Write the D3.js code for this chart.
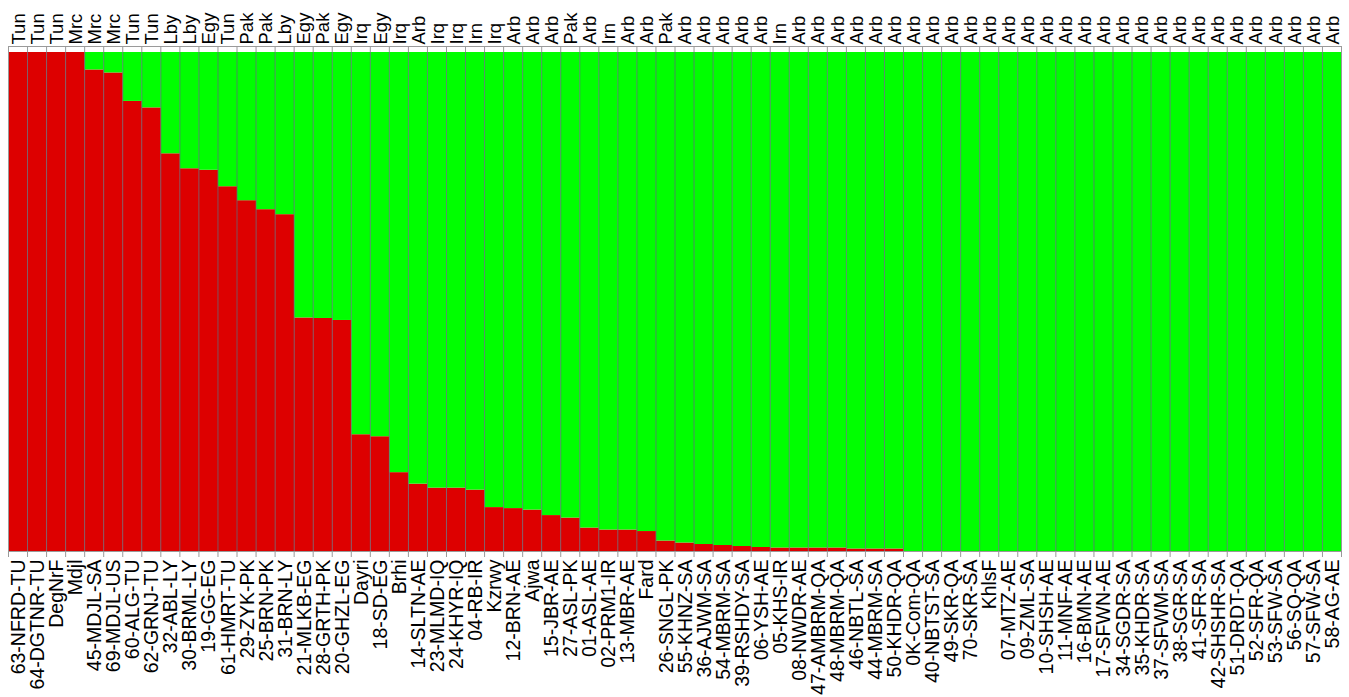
<!DOCTYPE html>
<html>
<head>
<meta charset="utf-8">
<script src="https://cdn.jsdelivr.net/npm/d3@7"></script>
<style>
  html, body { margin: 0; padding: 0; background: #fff; }
  svg { display: block; }
  text { font-family: "Liberation Sans", Arial, sans-serif; fill: #000; }
</style>
</head>
<body>
<svg id="chart" width="1349" height="697"></svg>
<script>
const sampleLabels = ["63-NFRD-TU","64-DGTNR-TU","DegNrF","Mdjl","45-MDJL-SA","69-MDJL-US","60-ALG-TU","62-GRNJ-TU","32-ABL-LY","30-BRML-LY","19-GG-EG","61-HMRT-TU","29-ZYK-PK","25-BRN-PK","31-BRN-LY","21-MLKB-EG","28-GRTH-PK","20-GHZL-EG","Dayri","18-SD-EG","Brhi","14-SLTN-AE","23-MLMD-IQ","24-KHYR-IQ","04-RB-IR","Kzrwy","12-BRN-AE","Ajwa","15-JBR-AE","27-ASL-PK","01-ASL-AE","02-PRM1-IR","13-MBR-AE","Fard","26-SNGL-PK","55-KHNZ-SA","36-AJWM-SA","54-MBRM-SA","39-RSHDY-SA","06-YSH-AE","05-KHS-IR","08-NWDR-AE","47-AMBRM-QA","48-MBRM-QA","46-NBTL-SA","44-MBRM-SA","50-KHDR-QA","0K-Com-QA","40-NBTST-SA","49-SKR-QA","70-SKR-SA","KhlsF","07-MTZ-AE","09-ZML-SA","10-SHSH-AE","11-MNF-AE","16-BMN-AE","17-SFWN-AE","34-SGDR-SA","35-KHDR-SA","37-SFWM-SA","38-SGR-SA","41-SFR-SA","42-SHSHR-SA","51-DRDT-QA","52-SFR-QA","53-SFW-SA","56-SQ-QA","57-SFW-SA","58-AG-AE"];

const regionLabels = ["Tun","Tun","Tun","Mrc","Mrc","Mrc","Tun","Tun","Lby","Lby","Egy","Tun","Pak","Pak","Lby","Egy","Pak","Egy","Irq","Egy","Irq","Arb","Irq","Irq","Irn","Irq","Arb","Arb","Arb","Pak","Arb","Irn","Arb","Arb","Pak","Arb","Arb","Arb","Arb","Arb","Irn","Arb","Arb","Arb","Arb","Arb","Arb","Arb","Arb","Arb","Arb","Arb","Arb","Arb","Arb","Arb","Arb","Arb","Arb","Arb","Arb","Arb","Arb","Arb","Arb","Arb","Arb","Arb","Arb","Arb"];

// membership proportion of cluster 1 (red); cluster 2 (green) = 1 - red
const cluster1 = [1.0,1.0,1.0,1.0,0.965,0.959,0.902,0.889,0.797,0.767,0.764,0.731,0.703,0.685,0.675,0.468,0.467,0.463,0.234,0.230,0.158,0.135,0.127,0.127,0.123,0.088,0.086,0.083,0.072,0.067,0.047,0.043,0.043,0.040,0.021,0.017,0.014,0.012,0.010,0.008,0.007,0.007,0.007,0.007,0.005,0.005,0.005,0,0,0,0,0,0,0,0,0,0,0,0,0,0,0,0,0,0,0,0,0,0,0];
const cluster2 = cluster1.map(v => 1 - v);

const clusterColors = ["#dd0000", "#00ff00"];

const svg = d3.select("#chart");
const pLeft = 8.5, pRight = 1341.5, pTop = 52, pBottom = 551;

const x = d3.scaleBand().domain(d3.range(sampleLabels.length)).range([pLeft, pRight]).padding(0);
const y = d3.scaleLinear().domain([0, 1]).range([pBottom, pTop]);

const rows = sampleLabels.map((s, i) => ({ i, c1: cluster1[i], c2: cluster2[i] }));
const stack = d3.stack().keys(["c1", "c2"]);
const series = stack(rows);

svg.append("g").selectAll("g").data(series).join("g")
  .attr("fill", (d, k) => clusterColors[k])
  .selectAll("rect").data(d => d).join("rect")
  .attr("x", d => x(d.data.i))
  .attr("width", x.bandwidth())
  .attr("y", d => y(d[1]))
  .attr("height", d => Math.max(0, y(d[0]) - y(d[1])));

// separators between individuals
svg.append("g").selectAll("line").data(d3.range(1, sampleLabels.length)).join("line")
  .attr("x1", i => x(i)).attr("x2", i => x(i))
  .attr("y1", pTop).attr("y2", pBottom)
  .attr("stroke", "#5f6a78").attr("stroke-width", 1).attr("stroke-opacity", 0.75);

// top & bottom axes (ticks at boundaries)
const boundaries = d3.range(0, sampleLabels.length + 1);
const bx = i => pLeft + i * x.bandwidth();
const axG = svg.append("g").attr("stroke", "#9a9a9a").attr("stroke-width", 1);
axG.append("line").attr("x1", pLeft).attr("x2", pRight).attr("y1", pTop - 5.5).attr("y2", pTop - 5.5);
axG.selectAll(".tt").data(boundaries).join("line").attr("class", "tt")
  .attr("x1", bx).attr("x2", bx).attr("y1", pTop - 6).attr("y2", pTop);
axG.append("line").attr("x1", pLeft).attr("x2", pRight).attr("y1", pBottom + 0.5).attr("y2", pBottom + 0.5);
axG.selectAll(".bt").data(boundaries).join("line").attr("class", "bt")
  .attr("x1", bx).attr("x2", bx).attr("y1", pBottom).attr("y2", pBottom + 6);

// left / right border
axG.append("line").attr("x1", pLeft).attr("x2", pLeft).attr("y1", pTop).attr("y2", pBottom);
axG.append("line").attr("x1", pRight).attr("x2", pRight).attr("y1", pTop).attr("y2", pBottom);

// top region labels
svg.append("g").selectAll("text").data(regionLabels).join("text")
  .attr("transform", (d, i) => `translate(${x(i) + x.bandwidth() / 2},44.5) rotate(-90)`)
  .attr("dy", "0.36em")
  .attr("text-anchor", "start")
  .style("font-size", "18.5px")
  .text(d => d);

// bottom sample labels
svg.append("g").selectAll("text").data(sampleLabels).join("text")
  .attr("transform", (d, i) => `translate(${x(i) + x.bandwidth() / 2},559.5) rotate(-90)`)
  .attr("dy", "0.36em")
  .attr("text-anchor", "end")
  .style("font-size", "19.5px")
  .text(d => d);
</script>
</body>
</html>
